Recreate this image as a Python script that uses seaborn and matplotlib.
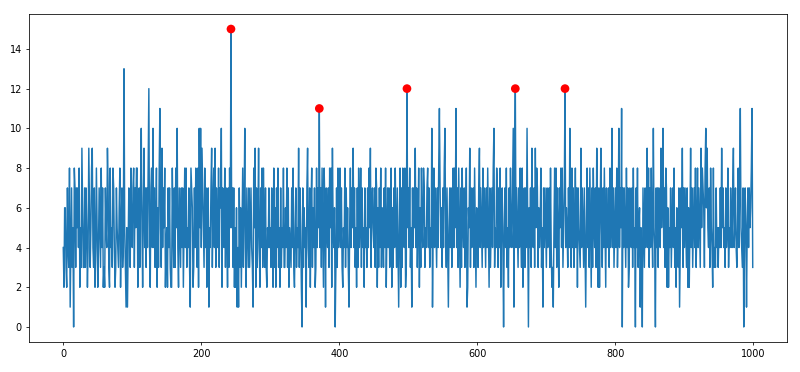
import numpy as np
import pandas as pd
import matplotlib
matplotlib.use("Agg")
import matplotlib.pyplot as plt
import seaborn as sns

# values, one hex digit per point (a=10, b=11, c=12, d=13, f=15)
rows = [
    "4266327438" "1473508737" "5748253963" "3737524963" "5894372485",
    "2475384723" "2754973284" "5387423754" "36825734d5" "3151476385",
    "4783758825" "737a526947" "3748c42784" "a473582638" "b539475824",
    "5274732285" "37385a4275" "3747258483" "5473187623" "7485382a5a",
    "4975384723" "7154793684" "937548376a" "2754837527" "385f573725",
    "2614173625" "836a427537" "3574318592" "7359427483" "8537325474",
    "5374283627" "4835273548" "3364837254" "3748325735" "4937520736",
    "4517943726" "8364723847" "5b47385286" "1754738582" "9546037384",
    "5847325483" "7463158475" "9473527384" "5837452745" "3748593675",
    "4738726374" "8365374825" "7473582637" "4853741582" "73854823c5",
    "7483517475" "9473582638" "5487354784" "7354a15847" "53748b7463",
    "748a537415" "747358485b" "4738527385" "4735812659" "3745738526",
    "5379475384" "7537485273" "5748a35487" "3748257405" "7483527485",
    "47a18c4753" "7485382673" "74a5064739" "5473958736" "4583517475",
    "3745738423" "1584837527" "5848357c46" "5374a53847" "3584727543",
    "9475374158" "4738527385" "4739527269" "5374852745" "73845a4735",
    "74835a475b" "0747538472" "3754738450" "7483561540" "7537469483",
    "74853a5407" "473754957a" "4738726254" "7357483526" "5371475937",
    "4753726259" "4735748358" "4753958763" "8a69547385" "4283437453",
    "5474957453" "7458354754" "7945743584" "7b54370475" "15747568b3",
]
values = [int(c, 16) for c in "".join(rows)]
steps = list(range(len(values)))

# marked peaks
peak_idx = [243, 371, 498, 655, 727]

df = pd.DataFrame({"x": steps, "y": values})
peaks = df.iloc[peak_idx]

fig, ax = plt.subplots(figsize=(800 / 70, 372 / 70), dpi=70)
fig.subplots_adjust(left=0.036, right=0.984, bottom=0.081, top=0.962)

sns.lineplot(data=df, x="x", y="y", ax=ax, color="#1f77b4", linewidth=1.5)
sns.scatterplot(data=peaks, x="x", y="y", ax=ax, color="red", s=80,
                edgecolor="none", zorder=3)
ax.set_xlabel("")
ax.set_ylabel("")

fig.savefig("out.png", dpi=70)
